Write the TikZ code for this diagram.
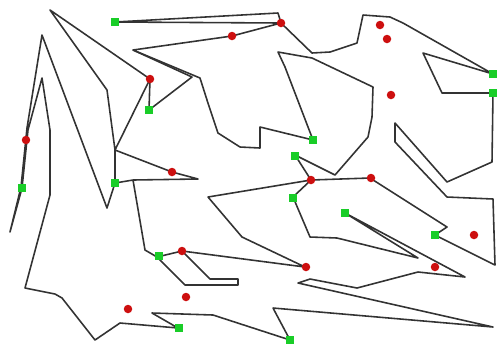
\documentclass[tikz,border=0pt]{standalone}
\usepackage{xcolor}
\usepackage{tikz}
\definecolor{ptred}{RGB}{205,15,15}
\definecolor{ptgreen}{RGB}{25,205,40}

\begin{document}
\begin{tikzpicture}[
  x=0.02cm, y=-0.02cm,
  edge/.style={draw=black!80, line width=0.9pt, line join=round},
  guard/.style={circle, fill=ptred, inner sep=0pt, minimum size=1.7mm},
  corner/.style={rectangle, fill=ptgreen, inner sep=0pt, minimum width=1.7mm, minimum height=1.5mm}
]
\useasboundingbox (0,0) rectangle (500,343);

% upper left part
\draw[edge] (115,22) -- (278,13) -- (281,23) -- (115,22);
\draw[edge] (281,23) -- (232,36) -- (133,50) -- (192,77) -- (149,110) -- (150,79)
  -- (50,10) -- (107,90) -- (115,150) -- (150,79);
\draw[edge] (133,50) -- (200,78) -- (207,100) -- (218,133) -- (240,147) -- (260,148)
  -- (260,127) -- (313,140) -- (285,67) -- (278,52) -- (312,58) -- (373,87)
  -- (372,117) -- (368,137) -- (335,175) -- (295,155) -- (311,180) -- (293,197);

% right part
\draw[edge] (133,180) -- (145,250) -- (157,257) -- (185,285) -- (238,285) -- (238,279)
  -- (210,279) -- (182,251) -- (305,267) -- (242,237) -- (208,197) -- (311,180)
  -- (370,178) -- (447,227) -- (435,235) -- (495,265) -- (493,199) -- (447,197)
  -- (395,142) -- (395,123) -- (447,182) -- (492,162) -- (493,93) -- (442,93)
  -- (423,53) -- (493,74) -- (403,23) -- (390,17) -- (363,15) -- (357,43)
  -- (330,52) -- (312,53) -- (281,23);
\draw[edge] (157,257) -- (182,251);

% lower part and left spikes
\draw[edge] (293,197) -- (310,237) -- (337,238) -- (418,258) -- (345,213) -- (465,277)
  -- (418,272) -- (357,288) -- (310,279) -- (298,283) -- (493,327) -- (273,308)
  -- (290,340) -- (213,315) -- (152,313) -- (178,328) -- (120,323) -- (95,340)
  -- (62,298) -- (55,294) -- (25,288) -- (50,195) -- (50,130) -- (42,78)
  -- (28,130) -- (22,188) -- (10,232) -- (21,187) -- (27,128) -- (42,35)
  -- (107,208) -- (115,183) -- (133,180) -- (198,179) -- (172,172) -- (115,150)
  -- (115,183);

% points
\foreach \px/\py [count=\i] in {281/23, 232/36, 380/25, 387/39, 150/79, 26/140,
    391/95, 172/172, 311/180, 371/178, 474/235, 182/251, 306/267, 435/267,
    186/297, 128/309}
  \node[guard] (r\i) at (\px,\py) {};
\foreach \px/\py [count=\i] in {115/22, 493/74, 149/110, 493/93, 313/140, 295/156,
    115/183, 22/188, 293/198, 345/213, 435/235, 159/256, 179/328, 290/340}
  \node[corner] (g\i) at (\px,\py) {};
\end{tikzpicture}
\end{document}
